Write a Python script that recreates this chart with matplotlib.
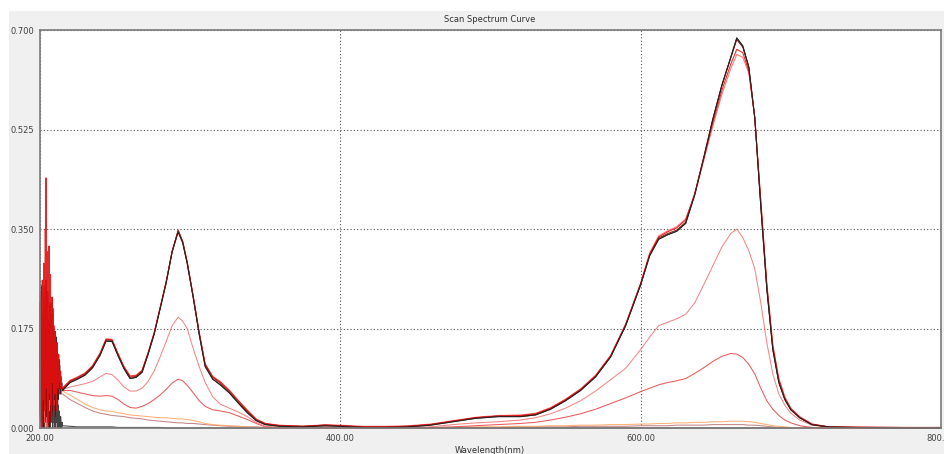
import numpy as np
import matplotlib
matplotlib.use("Agg")
import matplotlib.pyplot as plt
from matplotlib.patches import Rectangle

# Wavelength grid (nm) of the smooth part of every scan
wl = [215, 220, 225, 230, 235, 240, 244, 248, 252, 256,
      260, 264, 268, 272, 276, 280, 284, 288, 292, 295,
      298, 302, 306, 310, 315, 320, 326, 332, 338, 344,
      350, 360, 375, 390, 400, 415, 430, 445, 460, 475,
      490, 505, 520, 530, 540, 550, 560, 570, 580, 590,
      600, 606, 612, 618, 624, 630, 636, 642, 648, 654,
      660, 664, 668, 672, 676, 680, 684, 688, 692, 696,
      700, 706, 714, 725, 740, 770, 800]

# high group (four nearly identical scans)
abs_a = [0.066, 0.080, 0.086, 0.093, 0.106, 0.128, 0.153, 0.152, 0.127, 0.104,
         0.087, 0.089, 0.098, 0.130, 0.165, 0.210, 0.255, 0.310, 0.345, 0.326,
         0.290, 0.230, 0.165, 0.108, 0.086, 0.076, 0.062, 0.044, 0.027, 0.013,
         0.006, 0.003, 0.002, 0.004, 0.003, 0.001, 0.001, 0.002, 0.005, 0.011,
         0.017, 0.020, 0.020, 0.023, 0.033, 0.048, 0.066, 0.090, 0.125, 0.180,
         0.252, 0.303, 0.332, 0.340, 0.346, 0.360, 0.410, 0.475, 0.542, 0.602,
         0.652, 0.686, 0.672, 0.635, 0.545, 0.390, 0.245, 0.138, 0.080, 0.050,
         0.032, 0.018, 0.006, 0.002, 0.001, 0.000, 0.000]
abs_b = [0.068, 0.082, 0.088, 0.095, 0.108, 0.130, 0.155, 0.154, 0.129, 0.106,
         0.089, 0.091, 0.100, 0.131, 0.166, 0.211, 0.257, 0.311, 0.348, 0.328,
         0.291, 0.231, 0.167, 0.111, 0.089, 0.079, 0.064, 0.046, 0.029, 0.014,
         0.007, 0.004, 0.003, 0.005, 0.004, 0.002, 0.002, 0.003, 0.006, 0.012,
         0.018, 0.021, 0.021, 0.024, 0.034, 0.049, 0.067, 0.091, 0.126, 0.181,
         0.253, 0.305, 0.334, 0.342, 0.348, 0.362, 0.412, 0.476, 0.543, 0.602,
         0.651, 0.683, 0.670, 0.634, 0.546, 0.393, 0.248, 0.140, 0.082, 0.051,
         0.033, 0.018, 0.006, 0.002, 0.001, 0.001, 0.000]
abs_c = [0.070, 0.083, 0.089, 0.096, 0.109, 0.131, 0.156, 0.155, 0.130, 0.107,
         0.091, 0.092, 0.101, 0.132, 0.167, 0.211, 0.256, 0.310, 0.347, 0.328,
         0.292, 0.232, 0.168, 0.112, 0.090, 0.081, 0.066, 0.048, 0.031, 0.015,
         0.008, 0.004, 0.003, 0.005, 0.004, 0.002, 0.002, 0.003, 0.006, 0.012,
         0.018, 0.021, 0.022, 0.025, 0.035, 0.050, 0.068, 0.092, 0.127, 0.182,
         0.254, 0.306, 0.336, 0.345, 0.352, 0.366, 0.412, 0.474, 0.536, 0.593,
         0.640, 0.666, 0.660, 0.628, 0.546, 0.398, 0.252, 0.144, 0.085, 0.053,
         0.034, 0.019, 0.007, 0.002, 0.002, 0.001, 0.001]
abs_d = [0.071, 0.084, 0.090, 0.097, 0.110, 0.132, 0.157, 0.156, 0.131, 0.108,
         0.092, 0.093, 0.102, 0.133, 0.168, 0.212, 0.257, 0.311, 0.346, 0.329,
         0.293, 0.233, 0.169, 0.113, 0.091, 0.082, 0.067, 0.049, 0.032, 0.016,
         0.008, 0.005, 0.003, 0.006, 0.005, 0.003, 0.003, 0.004, 0.007, 0.013,
         0.019, 0.022, 0.023, 0.026, 0.036, 0.051, 0.069, 0.093, 0.128, 0.183,
         0.255, 0.308, 0.338, 0.347, 0.354, 0.368, 0.410, 0.470, 0.530, 0.586,
         0.632, 0.657, 0.652, 0.624, 0.546, 0.402, 0.256, 0.148, 0.088, 0.055,
         0.035, 0.020, 0.007, 0.002, 0.001, 0.001, 0.001]
# middle scans
abs_e = [0.068, 0.072, 0.075, 0.078, 0.082, 0.090, 0.096, 0.094, 0.084, 0.072,
         0.065, 0.065, 0.070, 0.082, 0.100, 0.125, 0.152, 0.180, 0.195, 0.188,
         0.175, 0.140, 0.108, 0.080, 0.055, 0.042, 0.035, 0.028, 0.020, 0.010,
         0.003, 0.001, 0.001, 0.002, 0.001, 0.001, 0.001, 0.001, 0.002, 0.006,
         0.009, 0.011, 0.014, 0.018, 0.025, 0.035, 0.048, 0.065, 0.085, 0.105,
         0.138, 0.160, 0.180, 0.186, 0.192, 0.200, 0.220, 0.252, 0.285, 0.318,
         0.342, 0.350, 0.335, 0.312, 0.280, 0.220, 0.150, 0.095, 0.060, 0.040,
         0.026, 0.014, 0.005, 0.001, 0.000, 0.000, 0.000]
abs_f = [0.066, 0.066, 0.063, 0.060, 0.057, 0.056, 0.057, 0.056, 0.050, 0.042,
         0.036, 0.035, 0.038, 0.043, 0.050, 0.058, 0.068, 0.079, 0.086, 0.083,
         0.075, 0.062, 0.048, 0.038, 0.032, 0.030, 0.027, 0.021, 0.015, 0.008,
         0.002, 0.001, 0.001, 0.001, 0.001, 0.001, 0.001, 0.001, 0.001, 0.002,
         0.004, 0.006, 0.008, 0.010, 0.014, 0.019, 0.025, 0.033, 0.043, 0.053,
         0.064, 0.070, 0.076, 0.080, 0.083, 0.087, 0.096, 0.106, 0.117, 0.126,
         0.131, 0.130, 0.124, 0.112, 0.095, 0.070, 0.048, 0.033, 0.022, 0.014,
         0.009, 0.004, 0.001, 0.000, 0.000, 0.000, 0.000]
# low scans
abs_g = [0.065, 0.058, 0.050, 0.042, 0.036, 0.032, 0.030, 0.029, 0.027, 0.025,
         0.023, 0.022, 0.021, 0.020, 0.019, 0.018, 0.018, 0.017, 0.016, 0.016,
         0.015, 0.013, 0.011, 0.008, 0.006, 0.005, 0.004, 0.003, 0.002, 0.001,
         0.001, 0.000, 0.000, 0.000, 0.000, 0.000, 0.000, 0.000, 0.001, 0.001,
         0.002, 0.002, 0.003, 0.003, 0.004, 0.004, 0.005, 0.005, 0.006, 0.006,
         0.007, 0.007, 0.008, 0.008, 0.009, 0.009, 0.010, 0.010, 0.011, 0.011,
         0.012, 0.012, 0.012, 0.011, 0.010, 0.008, 0.006, 0.004, 0.003, 0.002,
         0.001, 0.000, 0.000, 0.000, 0.000, 0.000, 0.000]
abs_h = [0.060, 0.050, 0.043, 0.036, 0.030, 0.026, 0.024, 0.022, 0.021, 0.020,
         0.018, 0.017, 0.016, 0.014, 0.013, 0.012, 0.011, 0.010, 0.009, 0.009,
         0.008, 0.008, 0.007, 0.006, 0.005, 0.004, 0.003, 0.003, 0.002, 0.002,
         0.001, 0.000, 0.000, 0.000, 0.000, 0.000, 0.000, 0.000, 0.000, 0.001,
         0.001, 0.001, 0.002, 0.002, 0.002, 0.002, 0.003, 0.003, 0.003, 0.003,
         0.004, 0.004, 0.004, 0.004, 0.005, 0.005, 0.005, 0.005, 0.006, 0.006,
         0.006, 0.006, 0.006, 0.005, 0.005, 0.004, 0.003, 0.002, 0.001, 0.001,
         0.000, 0.000, 0.000, 0.000, 0.000, 0.000, 0.000]
abs_k = [0.004, 0.003, 0.002, 0.002, 0.002, 0.002, 0.002, 0.002, 0.001, 0.001,
         0.001, 0.001, 0.001, 0.001, 0.001, 0.001, 0.000, 0.000, 0.000, 0.000,
         0.000, 0.000, 0.000, 0.000, 0.000, 0.000, 0.000, 0.000, 0.000, 0.000,
         0.000, 0.000, 0.000, 0.000, 0.000, 0.000, 0.000, 0.000, 0.000, 0.000,
         0.000, 0.000, 0.000, 0.000, 0.000, 0.000, 0.000, 0.000, 0.000, 0.000,
         0.000, 0.000, 0.000, 0.000, 0.000, 0.000, 0.000, 0.000, 0.000, 0.000,
         0.000, 0.000, 0.000, 0.000, 0.000, 0.000, 0.000, 0.000, 0.000, 0.000,
         0.000, 0.000, 0.000, 0.000, 0.000, 0.000, 0.000]

# noisy start of each scan, 200.00 .. 214.75 nm every 0.25 nm
wl_noise = np.arange(200.0, 215.0, 0.25)
noise_a = [0.10, 0.21, 0.04, 0.17, 0.24, 0.02, 0.13, 0.19, 0.00, 0.22,
           0.08, 0.16, 0.25, 0.05, 0.14, 0.20, 0.01, 0.18, 0.11, 0.23,
           0.03, 0.15, 0.21, 0.07, 0.12, 0.19, 0.00, 0.17, 0.09, 0.22,
           0.04, 0.14, 0.20, 0.06, 0.16, 0.02, 0.18, 0.11, 0.05, 0.15,
           0.08, 0.14, 0.03, 0.12, 0.16, 0.06, 0.11, 0.13, 0.05, 0.10,
           0.12, 0.07, 0.09, 0.11, 0.06, 0.08, 0.09, 0.07, 0.08, 0.07]
noise_b = [0.22, 0.06, 0.18, 0.01, 0.25, 0.12, 0.03, 0.20, 0.15, 0.00,
           0.23, 0.09, 0.17, 0.04, 0.21, 0.13, 0.26, 0.02, 0.16, 0.08,
           0.24, 0.11, 0.00, 0.19, 0.14, 0.05, 0.22, 0.10, 0.17, 0.01,
           0.20, 0.07, 0.15, 0.23, 0.03, 0.13, 0.18, 0.06, 0.14, 0.09,
           0.17, 0.02, 0.13, 0.10, 0.04, 0.15, 0.08, 0.12, 0.06, 0.11,
           0.09, 0.12, 0.07, 0.10, 0.08, 0.09, 0.07, 0.08, 0.07, 0.07]
noise_c = [0.14, 0.02, 0.23, 0.09, 0.19, 0.00, 0.26, 0.11, 0.17, 0.05,
           0.29, 0.13, 0.21, 0.03, 0.35, 0.18, 0.44, 0.07, 0.24, 0.12,
           0.31, 0.01, 0.20, 0.15, 0.32, 0.06, 0.22, 0.10, 0.27, 0.04,
           0.19, 0.13, 0.23, 0.08, 0.16, 0.21, 0.02, 0.18, 0.11, 0.14,
           0.06, 0.17, 0.10, 0.13, 0.03, 0.15, 0.09, 0.12, 0.07, 0.11,
           0.13, 0.08, 0.10, 0.09, 0.07, 0.10, 0.08, 0.08, 0.07, 0.07]
noise_d = [0.04, 0.24, 0.13, 0.00, 0.20, 0.16, 0.07, 0.26, 0.10, 0.18,
           0.02, 0.22, 0.14, 0.06, 0.25, 0.09, 0.19, 0.00, 0.15, 0.21,
           0.05, 0.17, 0.12, 0.24, 0.03, 0.16, 0.20, 0.08, 0.13, 0.18,
           0.01, 0.15, 0.22, 0.09, 0.12, 0.04, 0.17, 0.14, 0.07, 0.16,
           0.10, 0.05, 0.15, 0.12, 0.08, 0.14, 0.06, 0.11, 0.13, 0.07,
           0.10, 0.09, 0.12, 0.08, 0.10, 0.07, 0.09, 0.08, 0.07, 0.07]
noise_e = [0.17, 0.08, 0.22, 0.03, 0.15, 0.25, 0.10, 0.19, 0.01, 0.14,
           0.21, 0.06, 0.18, 0.12, 0.24, 0.04, 0.16, 0.20, 0.09, 0.00,
           0.13, 0.23, 0.07, 0.17, 0.11, 0.02, 0.19, 0.14, 0.21, 0.05,
           0.16, 0.10, 0.18, 0.03, 0.13, 0.20, 0.08, 0.15, 0.11, 0.06,
           0.14, 0.09, 0.16, 0.04, 0.12, 0.10, 0.13, 0.07, 0.11, 0.09,
           0.08, 0.10, 0.07, 0.09, 0.08, 0.07, 0.08, 0.07, 0.07, 0.07]
noise_f = [0.07, 0.19, 0.00, 0.23, 0.12, 0.04, 0.20, 0.15, 0.02, 0.25,
           0.08, 0.17, 0.11, 0.01, 0.22, 0.14, 0.05, 0.18, 0.09, 0.24,
           0.03, 0.16, 0.12, 0.20, 0.06, 0.14, 0.00, 0.19, 0.10, 0.15,
           0.05, 0.21, 0.08, 0.13, 0.17, 0.02, 0.11, 0.16, 0.07, 0.12,
           0.04, 0.15, 0.09, 0.11, 0.06, 0.13, 0.08, 0.10, 0.05, 0.09,
           0.11, 0.07, 0.08, 0.06, 0.08, 0.07, 0.07, 0.06, 0.07, 0.07]
noise_g = [0.12, 0.03, 0.18, 0.08, 0.00, 0.15, 0.21, 0.05, 0.11, 0.17,
           0.02, 0.13, 0.09, 0.19, 0.06, 0.14, 0.10, 0.01, 0.16, 0.12,
           0.07, 0.20, 0.04, 0.13, 0.15, 0.08, 0.11, 0.03, 0.14, 0.09,
           0.17, 0.06, 0.12, 0.10, 0.05, 0.13, 0.08, 0.15, 0.07, 0.11,
           0.09, 0.12, 0.06, 0.10, 0.08, 0.11, 0.07, 0.09, 0.08, 0.10,
           0.07, 0.08, 0.07, 0.08, 0.07, 0.07, 0.07, 0.07, 0.066, 0.066]
noise_h = [0.02, 0.14, 0.07, 0.18, 0.10, 0.00, 0.12, 0.16, 0.04, 0.09,
           0.13, 0.01, 0.11, 0.17, 0.06, 0.10, 0.14, 0.03, 0.08, 0.12,
           0.15, 0.05, 0.09, 0.13, 0.02, 0.11, 0.07, 0.14, 0.10, 0.04,
           0.09, 0.12, 0.06, 0.10, 0.08, 0.13, 0.05, 0.09, 0.11, 0.07,
           0.08, 0.10, 0.06, 0.09, 0.07, 0.08, 0.06, 0.07, 0.08, 0.06,
           0.07, 0.06, 0.07, 0.06, 0.06, 0.06, 0.06, 0.06, 0.06, 0.06]
noise_k = [0.03, 0.16, 0.00, 0.21, 0.07, 0.18, 0.01, 0.13, 0.24, 0.02,
           0.15, 0.00, 0.11, 0.19, 0.04, 0.09, 0.22, 0.00, 0.14, 0.06,
           0.17, 0.01, 0.12, 0.20, 0.03, 0.08, 0.16, 0.00, 0.13, 0.05,
           0.18, 0.02, 0.10, 0.14, 0.00, 0.09, 0.12, 0.01, 0.07, 0.11,
           0.00, 0.08, 0.03, 0.10, 0.01, 0.06, 0.00, 0.05, 0.02, 0.04,
           0.00, 0.03, 0.01, 0.02, 0.00, 0.02, 0.01, 0.01, 0.00, 0.01]

# drawing order: back to front
scans = [
    (noise_k, abs_k, "#303030"),
    (noise_h, abs_h, "#c07878"),
    (noise_g, abs_g, "#ffa868"),
    (noise_f, abs_f, "#e84848"),
    (noise_e, abs_e, "#f47878"),
    (noise_a, abs_a, "#202020"),
    (noise_d, abs_d, "#ff6868"),
    (noise_b, abs_b, "#900000"),
    (noise_c, abs_c, "#e01010"),
]

W, H = 944, 454
fig = plt.figure(figsize=(W / 100, H / 100), dpi=100)
fig.patch.set_facecolor("white")
fig.patches.append(Rectangle((9 / W, 0), 1 - 9 / W, (H - 11) / H,
                             transform=fig.transFigure, facecolor="#f0f0f0",
                             edgecolor="none", zorder=-10))

ax = fig.add_axes((40 / W, 26 / H, 901 / W, 398 / H))
ax.set_zorder(1)
ax.set_facecolor("white")

n_noise = len(wl_noise)
for nz, vals, col in scans:
    x = np.concatenate([wl_noise, wl])
    y = np.concatenate([nz, vals])
    ax.plot(x, y, color=col, lw=0.75, alpha=0.9, clip_on=False)

# black scan drawn again over the smooth part so it stays on top of the reds
ax.plot(wl, abs_a, color="#202020", lw=0.75, alpha=0.9, clip_on=False)

ax.set_xlim(200, 800)
ax.set_ylim(0, 0.7)
ax.set_xticks([200, 400, 600, 800])
ax.set_xticklabels(["200.00", "400.00", "600.00", "800.00"])
ax.set_yticks([0, 0.175, 0.35, 0.525, 0.7])
ax.set_yticklabels(["0.000", "0.175", "0.350", "0.525", "0.700"])
ax.tick_params(length=0, labelsize=6, colors="#404040", pad=4)
ax.grid(True, linestyle=(0, (1, 2)), color="#505050", lw=0.8)
ax.set_axisbelow(True)
for s in ax.spines.values():
    s.set_color("#7a7a7a")
    s.set_linewidth(1.2)

fig.text(490 / W, 1 - 20 / H, "Scan Spectrum Curve", fontsize=6,
         color="#303030", ha="center", va="center")
fig.text(490 / W, 1 - 446 / H, "Wavelength(nm)", fontsize=6,
         color="#303030", ha="center", va="top")

fig.savefig("out.png", dpi=100)
